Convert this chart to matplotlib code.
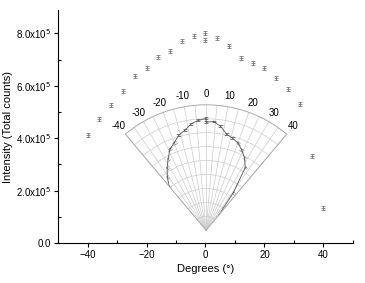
import numpy as np
import matplotlib.pyplot as plt
from matplotlib.ticker import MultipleLocator

plt.rcParams['font.family'] = ['Liberation Sans', 'DejaVu Sans']

# angle (deg) and intensity (x10^5 total counts)
degrees = [-40, -36, -32, -28, -24, -20, -16, -12, -8, -4, 0, 0,
           4, 8, 12, 16, 20, 24, 28, 32, 36, 40]
intensity = [4.12, 4.73, 5.27, 5.80, 6.37, 6.68, 7.10, 7.33, 7.71, 7.90, 8.02, 7.75,
             7.82, 7.52, 7.06, 6.87, 6.68, 6.30, 5.88, 5.31, 3.32, 1.34]
errors = [0.07] * len(degrees)

ytick_vals = [0, 2, 4, 6, 8]
ytick_labels = ['0.0', '2.0x10$^5$', '4.0x10$^5$', '6.0x10$^5$', '8.0x10$^5$']
polar_labels = [-40, -30, -20, -10, 0, 10, 20, 30, 40]

fig = plt.figure(figsize=(3.65, 2.83), dpi=100)
ax = fig.add_axes([0.159, 0.141, 0.808, 0.824])

ax.errorbar(degrees, intensity, yerr=errors, fmt='_', ms=3, color='#777777',
            ecolor='#777777', elinewidth=0.6, capsize=1.5, capthick=0.6, mew=0.6)

ax.set_xlim(-50, 50)
ax.set_ylim(0, 8.9)
ax.set_xticks([-40, -20, 0, 20, 40])
ax.set_yticks(ytick_vals)
ax.set_yticklabels(ytick_labels)
ax.xaxis.set_minor_locator(MultipleLocator(10))
ax.yaxis.set_minor_locator(MultipleLocator(1))
ax.tick_params(which='major', direction='out', length=3, width=0.8, labelsize=7, pad=2)
ax.tick_params(which='minor', direction='in', length=2, width=0.8)
for s in ['top', 'right']:
    ax.spines[s].set_visible(False)
ax.set_xlabel('Degrees (°)', fontsize=8, labelpad=3)
ax.set_ylabel('Intensity (Total counts)', fontsize=8, labelpad=2)

# polar inset
pax = fig.add_axes([0.282, 0.123, 0.565, 0.570], projection='polar')
pax.set_theta_zero_location('N')
pax.set_theta_direction(-1)
pax.set_thetamin(-40)
pax.set_thetamax(40)
pax.set_rlim(0, 9)
theta = np.radians(degrees)
pax.errorbar(theta, intensity, yerr=errors, fmt='-', color='#555555', lw=0.6,
             ecolor='#777777', elinewidth=0.5, capsize=1.2, capthick=0.5)
pax.set_xticks(np.radians(np.arange(-40, 41, 5)))
pax.set_xticklabels([str(d) if d in polar_labels else '' for d in range(-40, 41, 5)])
pax.set_yticks(np.arange(1, 9))
pax.set_yticklabels([])
pax.tick_params(axis='x', labelsize=7, pad=-3)
pax.grid(color='#cccccc', lw=0.5)
for s in pax.spines.values():
    s.set_color('#aaaaaa')
    s.set_linewidth(0.7)

fig.savefig('out.png', dpi=100)
